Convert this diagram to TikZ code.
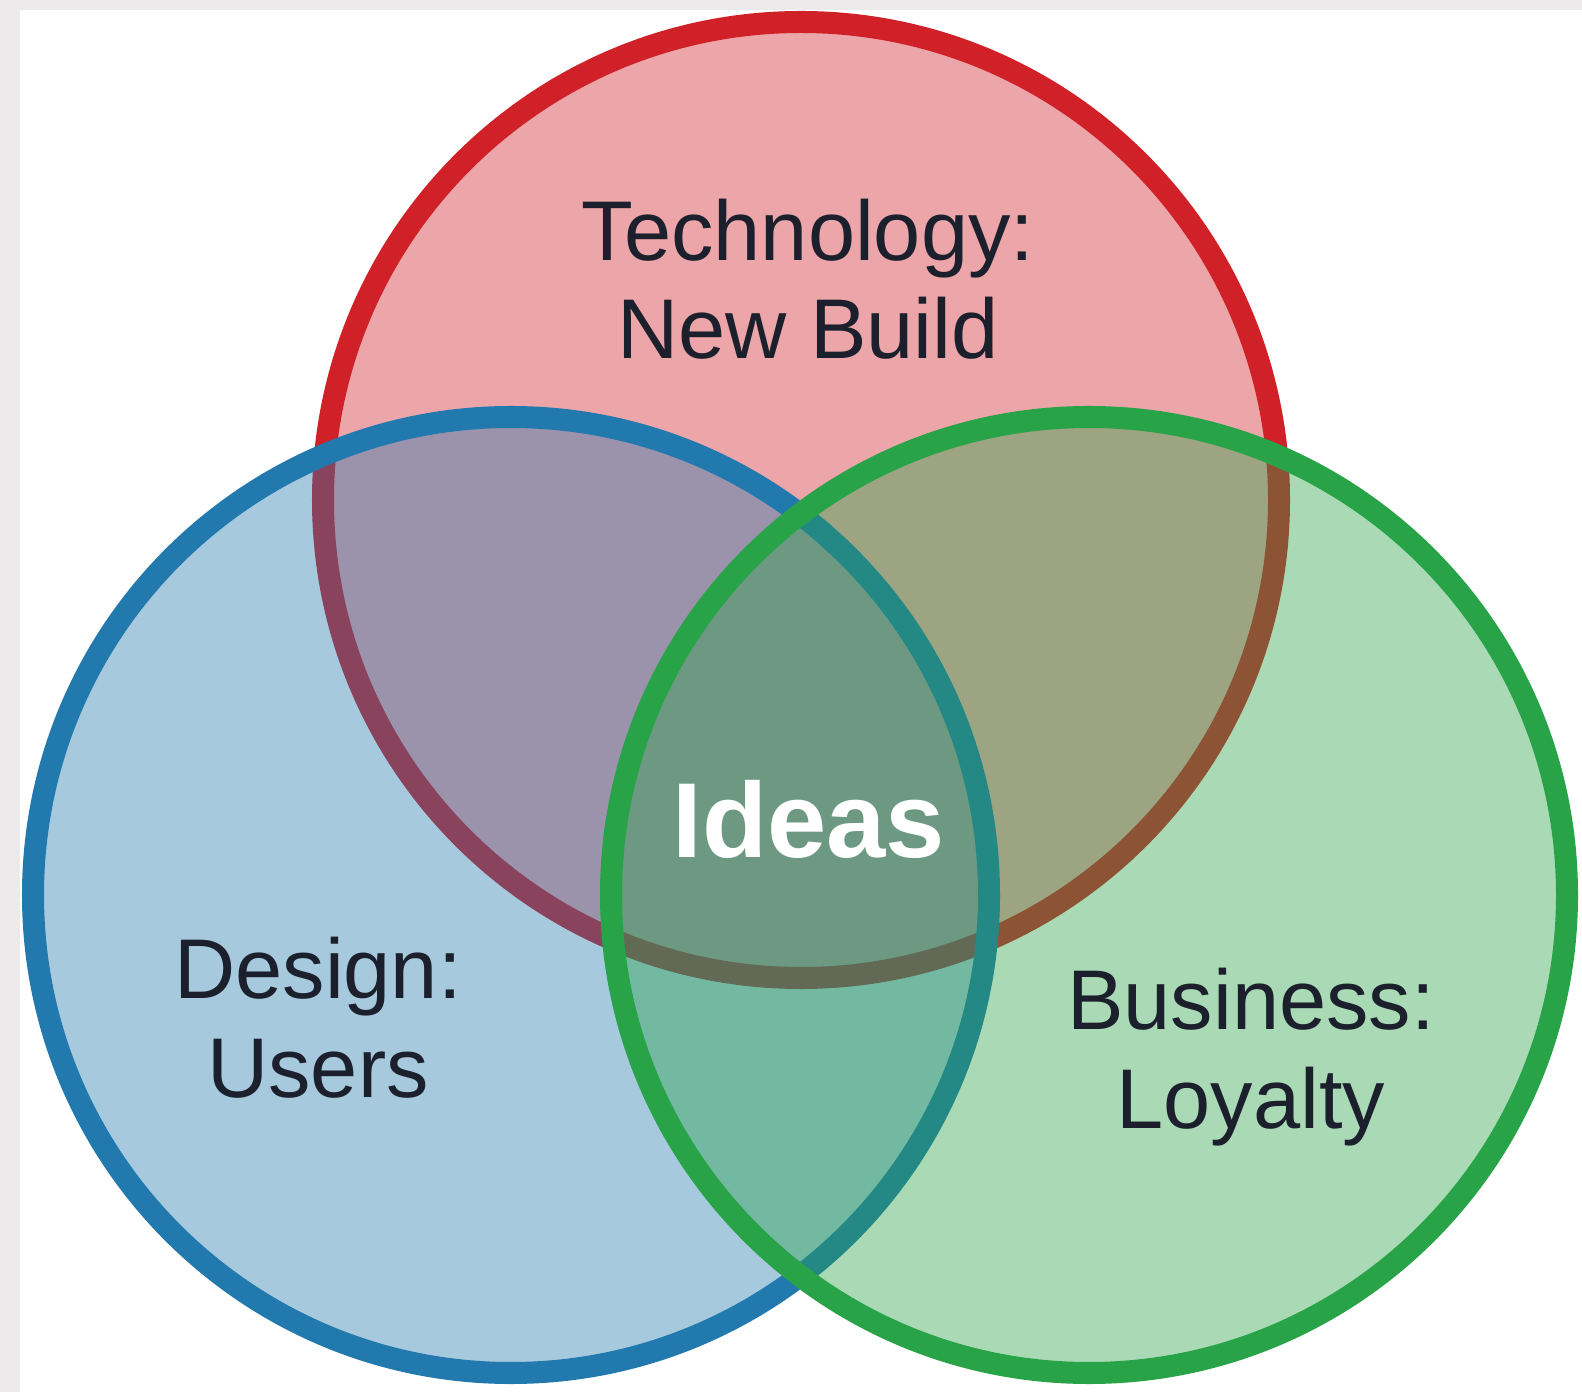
\documentclass[tikz,border=0pt]{standalone}
\usepackage{fontspec}
\setmainfont{Liberation Sans}
\definecolor{techred}{RGB}{208,32,40}
\definecolor{designblue}{RGB}{34,121,174}
\definecolor{businessgreen}{RGB}{40,163,72}
\definecolor{labelink}{RGB}{28,32,45}
\definecolor{framegray}{RGB}{236,234,235}
\begin{document}
\begin{tikzpicture}[x=0.01cm, y=-0.01cm]
	\tikzset{ring/.style={line width=6.26pt, fill opacity=0.4},
		label/.style={text=labelink, align=center, anchor=base, font=\fontsize{24.1}{27.9}\selectfont}}
	\fill [framegray] (0,0) rectangle (1582,1392);
	\fill [white] (20,10) rectangle (1582,1392);
	\useasboundingbox (0,0) rectangle (1582,1392);
	\coordinate (T) at (801,500);
	\coordinate (D) at (511,895);
	\coordinate (B) at (1089,895);
	% red first, then blue and green on top of it
	\filldraw [ring, draw=techred, fill=techred] (T) circle (478);
	\filldraw [ring, draw=designblue, fill=designblue] (D) circle (478);
	\filldraw [ring, draw=businessgreen, fill=businessgreen] (B) circle (478);
	% base sits on the last line
	\node [label] (tech) at (808,359) {Technology:\\New Build};
	\node [label] (design) at (318,1097) {Design:\\Users};
	\node [label] (business) at (1251,1128) {Business:\\Loyalty};
	\node [anchor=base, text=white, font=\fontsize{30.3}{36}\selectfont\bfseries] (ideas) at (809,857) {Ideas};
\end{tikzpicture}
\end{document}
